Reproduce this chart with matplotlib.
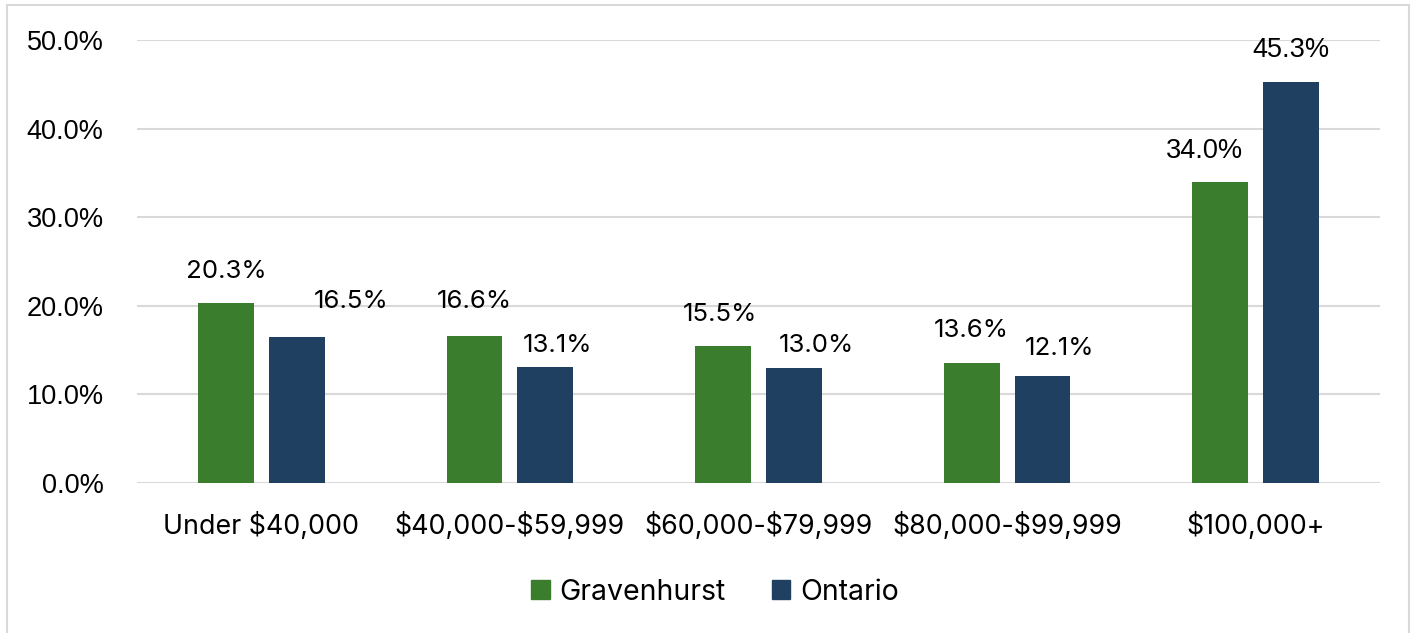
import matplotlib
matplotlib.use("Agg")
import matplotlib.pyplot as plt
from matplotlib.patches import Rectangle, Patch
import numpy as np

plt.rcParams["text.parse_math"] = False

categories = ["Under $40,000", "$40,000-$59,999", "$60,000-$79,999", "$80,000-$99,999", "$100,000+"]
gravenhurst = [20.3, 16.6, 15.5, 13.6, 34.0]
ontario = [16.5, 13.1, 13.0, 12.1, 45.3]
series_names = ["Gravenhurst", "Ontario"]
yticks = [0, 10, 20, 30, 40, 50]

GREEN = "#3A7D2D"
NAVY = "#1F4061"
GEO = "Inter"
ARIAL = "Liberation Sans"

W, H = 1417, 633
fig = plt.figure(figsize=(W / 100, H / 100), dpi=100)
fig.patches.append(Rectangle((7 / W, -0.1), (1409 - 7) / W, (H - 5) / H + 0.1,
                             transform=fig.transFigure, fill=False,
                             edgecolor="#d9d9d9", linewidth=1.5))

ax = fig.add_axes([137 / W, (H - 483) / H, (1380 - 137) / W, (483 - 40) / H])
x = np.arange(len(categories))
bw = 0.225
off = 0.1425
b1 = ax.bar(x - off, gravenhurst, bw, color=GREEN, zorder=3)
b2 = ax.bar(x + off, ontario, bw, color=NAVY, zorder=3)

ax.set_xlim(-0.5, len(categories) - 0.5)
ax.set_ylim(0, 50)
ax.set_yticks(yticks)
ax.set_yticklabels([f"{v:.1f}%" for v in yticks], fontfamily=ARIAL, fontsize=19.5)
ax.set_xticks(x)
ax.set_xticklabels(categories, fontfamily=GEO, fontsize=19.3)
ax.tick_params(axis="y", length=0, pad=24, colors="#000000")
ax.tick_params(axis="x", length=0, pad=21, colors="#000000")
ax.grid(axis="y", color="#d9d9d9", linewidth=1.5, zorder=0)
for s in ax.spines.values():
    s.set_visible(False)

# label offsets in pixels (dx, dy from bar top center)
g_off = [(0, 32), (0, 34), (-3, 31), (0, 32), (-16, 31)]
o_off = [(54, 35), (12, 21), (22, 22), (17, 27), (0, 32)]
g_font = [GEO, GEO, GEO, GEO, ARIAL]
o_font = [GEO, GEO, GEO, GEO, ARIAL]

for bars, vals, offs, fonts in [(b1, gravenhurst, g_off, g_font), (b2, ontario, o_off, o_font)]:
    for b, v, (dx, dy), f in zip(bars, vals, offs, fonts):
        ax.annotate(f"{v:.1f}%", (b.get_x() + b.get_width() / 2, v),
                    xytext=(dx, dy), textcoords="offset pixels",
                    ha="center", va="center", fontsize=18.6 if f == GEO else 19.5,
                    fontfamily=f, color="#000000")

handles = [Patch(color=GREEN), Patch(color=NAVY)]
fig.legend(handles, series_names, loc="center", bbox_to_anchor=(715 / W, 1 - 592 / H),
           ncol=2, frameon=False, prop={"family": GEO, "size": 20.5},
           handlelength=0.65, handleheight=0.65, handletextpad=0.35, columnspacing=1.6)

fig.savefig("out.png", dpi=100)
